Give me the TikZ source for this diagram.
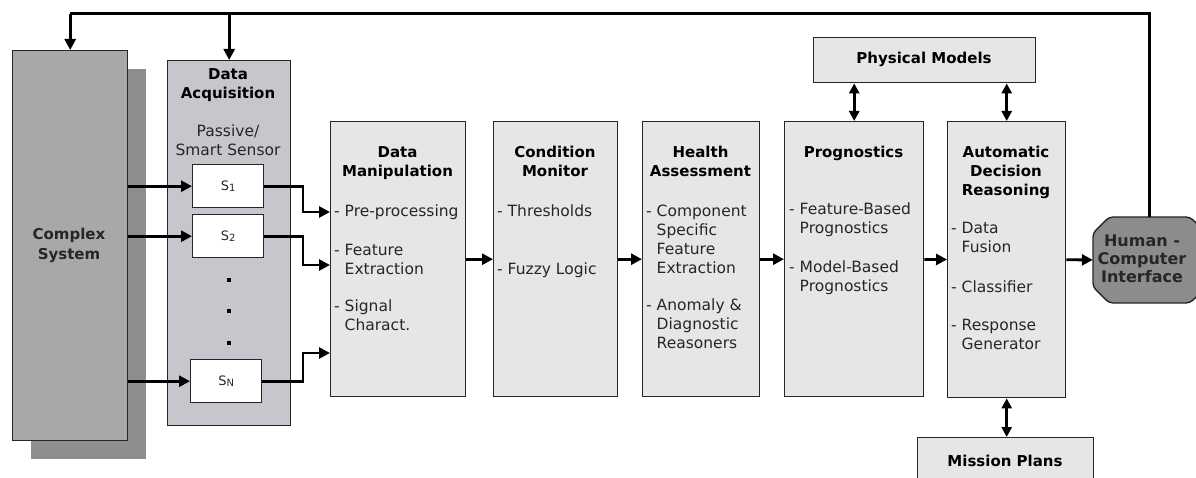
\documentclass[tikz,border=0pt]{standalone}
\usepackage{fontspec}
\setmainfont{DejaVu Sans}
\usetikzlibrary{arrows.meta}
\definecolor{lightbox}{HTML}{E6E6E6}
\definecolor{acqbox}{HTML}{C6C6CC}
\definecolor{sysbox}{HTML}{A8A8A8}
\definecolor{shadowbox}{HTML}{8E8E8E}
\definecolor{hcibox}{HTML}{8C8C8C}
\tikzset{
  blk/.style={draw=black!85, line width=1.4pt, fill=lightbox, anchor=north west, inner sep=0pt},
  sens/.style={draw=black!85, line width=1.4pt, fill=white, anchor=north west, inner sep=0pt, minimum width=71pt, minimum height=43pt},
  ttl/.style={font=\fontsize{15}{19}\selectfont\bfseries, align=center, anchor=base, inner sep=0pt},
  itm/.style={font=\fontsize{15.5}{19}\selectfont, text=black!85, align=left, anchor=base west, inner sep=0pt},
  slbl/.style={font=\fontsize{13}{14}\selectfont, text=black!85},
  arr/.style={line width=2.8pt, -{Triangle[length=11pt,width=11pt]}},
  darr/.style={line width=2.8pt, {Triangle[length=10pt,width=10pt]}-{Triangle[length=10pt,width=10pt]}},
  fb/.style={line width=3pt},
  dotm/.style={fill=black, inner sep=0pt, minimum size=4pt}
}
\newcommand{\dsh}{\phantom{- }}
\newcommand{\sidx}[1]{\raisebox{-1pt}{\fontsize{10}{10}\selectfont #1}}
\begin{document}
\begin{tikzpicture}[x=1pt,y=-1pt]
\useasboundingbox (0,0) rectangle (1196,478);
\clip (0,0) rectangle (1196,478);
% complex system with shadow
\node[blk, fill=shadowbox, draw=none, minimum width=115pt, minimum height=390pt] (shadow) at (30,68) {};
\node[blk, fill=sysbox, minimum width=115pt, minimum height=390pt] (cs) at (12,50) {};
\node[ttl, text=black!85] (cst) at (69,259) {Complex\\System};
% data acquisition
\node[blk, fill=acqbox, minimum width=123pt, minimum height=365pt] (da) at (167,60) {};
\node[ttl] (dat) at (228,99) {Data\\Acquisition};
\node[itm, anchor=base, align=center] (dap) at (228,156) {Passive/\\Smart Sensor};
\node[sens] (s1) at (192,164) {};
\node[slbl] (s1t) at (s1.center) {S\sidx{1}};
\node[sens] (s2) at (192,214) {};
\node[slbl] (s2t) at (s2.center) {S\sidx{2}};
\node[sens] (sn) at (190,359) {};
\node[slbl] (snt) at (sn.center) {S\sidx{N}};
\node[dotm] (d1) at (229,280) {};
\node[dotm] (d2) at (229,311) {};
\node[dotm] (d3) at (229,343) {};
% main blocks
\node[blk, minimum width=135pt, minimum height=275pt] (dm) at (330,121) {};
\node[ttl] (dmt) at (397.5,177) {Data\\Manipulation};
\node[itm] (dm1) at (334,217) {- Pre-processing};
\node[itm] (dm2) at (334,274) {- Feature\\\dsh Extraction};
\node[itm] (dm3) at (334,330) {- Signal\\\dsh Charact.};
\node[blk, minimum width=124pt, minimum height=275pt] (cm) at (493,121) {};
\node[ttl] (cmt) at (555,177) {Condition\\Monitor};
\node[itm] (cm1) at (497,217) {- Thresholds};
\node[itm] (cm2) at (497,274) {- Fuzzy Logic};
\node[blk, minimum width=117pt, minimum height=275pt] (ha) at (642,121) {};
\node[ttl] (hat) at (700.5,177) {Health\\Assessment};
\node[itm] (ha1) at (646,273) {- Component\\\dsh Specific\\\dsh Feature\\\dsh Extraction};
\node[itm] (ha2) at (646,348) {- Anomaly \&\\\dsh Diagnostic\\\dsh Reasoners};
\node[blk, minimum width=139pt, minimum height=275pt] (prog) at (784,121) {};
\node[ttl] (progt) at (853.5,158) {Prognostics};
\node[itm] (pr1) at (789,234) {- Feature-Based\\\dsh Prognostics};
\node[itm] (pr2) at (789,291) {- Model-Based\\\dsh Prognostics};
\node[blk, minimum width=118pt, minimum height=276pt] (adr) at (947,121) {};
\node[ttl] (adrt) at (1006,196) {Automatic\\Decision\\Reasoning};
\node[itm] (ad1) at (951,253) {- Data\\\dsh Fusion};
\node[itm] (ad2) at (951,292) {- Classifier};
\node[itm] (ad3) at (951,349) {- Response\\\dsh Generator};
\node[blk, minimum width=222pt, minimum height=45pt] (pm) at (813,37) {};
\node[ttl] (pmt) at (924,64) {Physical Models};
\node[blk, minimum width=176pt, minimum height=60pt] (mp) at (917,437) {};
\node[ttl] (mpt) at (1005,466) {Mission Plans};
% human computer interface
\draw[draw=black!85, line width=1.4pt, fill=hcibox, rounded corners=4pt]
  (1093,233) -- (1109,217) -- (1190,217) -- (1206,233) -- (1206,287) -- (1190,303) -- (1109,303) -- (1093,287) -- cycle;
\node[minimum width=113pt, minimum height=86pt, inner sep=0pt] (hci) at (1149.5,260) {};
\node[ttl, font=\fontsize{16}{18}\selectfont\bfseries, text=black!85] (hcit) at (1142,283) {Human -\\Computer\\Interface};
% connectors
\coordinate (top) at (0,14);
\coordinate (jx) at (303,0);
\coordinate (in1) at (330,212);
\coordinate (in2) at (330,265);
\coordinate (in3) at (330,353);
\draw[fb] (hci.north) |- (cs.north |- top);
\draw[arr] (cs.north |- top) -- (cs.north);
\draw[arr] (da.north |- top) -- (da.north);
\draw[arr] (cs.east |- s1.west) -- (s1.west);
\draw[arr] (cs.east |- s2.west) -- (s2.west);
\draw[arr] (cs.east |- sn.west) -- (sn.west);
\draw[arr] (s1.east) -| (jx |- in1) -- (in1);
\draw[arr] (s2.east) -| (jx |- in2) -- (in2);
\draw[arr] (sn.east) -| (jx |- in3) -- (in3);
\draw[arr] (dm) -- (cm);
\draw[arr] (cm) -- (ha);
\draw[arr] (ha) -- (prog);
\draw[arr] (prog) -- (adr);
\draw[arr] (adr) -- (hci);
\draw[darr] (prog.north |- pm.south) -- (prog.north);
\draw[darr] (adr.north |- pm.south) -- (adr.north);
\draw[darr] (adr.south) -- (adr.south |- mp.north);
\end{tikzpicture}
\end{document}
